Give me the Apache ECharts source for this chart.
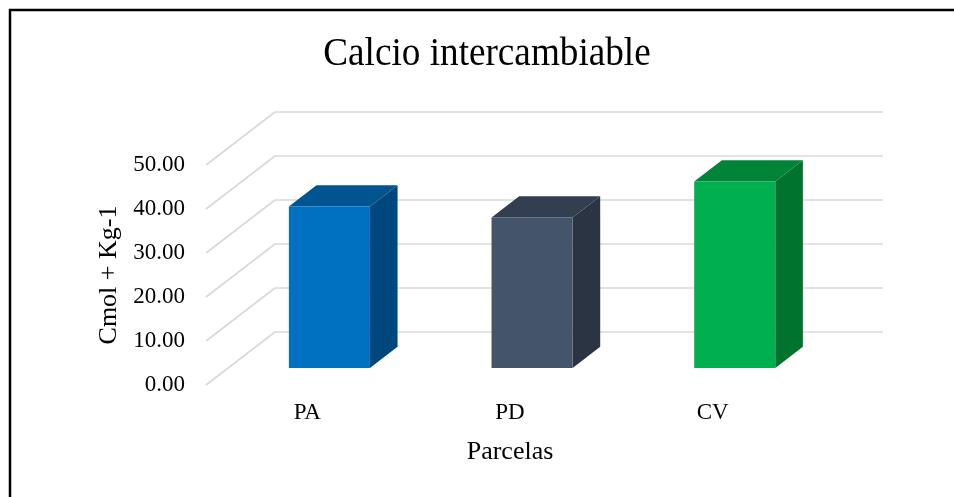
<!DOCTYPE html>
<html>
<head>
<meta charset="utf-8">
<script src="https://cdn.jsdelivr.net/npm/echarts@6/dist/echarts.min.js"></script>
<style>
  html, body { margin: 0; padding: 0; background: #ffffff; }
  #chart { width: 954px; height: 497px; }
</style>
</head>
<body>
<div id="chart"></div>
<script>
// Calcio intercambiable por parcela (Cmol + Kg-1)
const categories = ['PA', 'PD', 'CV'];
const calcio = [36.7, 34.2, 42.4];
const yTicks = [0, 10, 20, 30, 40, 50];

// Face colours of each 3D column: front, top, right side
const frontColors = ['#0070C0', '#44546A', '#00B050'];
const topColors = ['#00548F', '#333F50', '#008438'];
const sideColors = ['#00477D', '#2A3442', '#00732F'];

const FONT = "'Liberation Serif', 'Times New Roman', serif";

// Perspective offset from the front edge of the plot to the back wall
const WALL_DEPTH = [69, -53];
// Column placement inside the depth and the category band
const BAR_FRONT = 0.32;
const BAR_DEPTH = 0.40;
const BAR_WIDTH = 0.40;

const chart = echarts.init(document.getElementById('chart'), null, { renderer: 'canvas' });

// Draw the left side wall: one slanted line per y tick
function renderWall(params, api) {
  const v = api.value(0);
  const p = api.coord([0, v]);
  const band = api.size([1, 0])[0];
  const x0 = p[0] - band / 2;
  return {
    type: 'line',
    shape: { x1: x0, y1: p[1], x2: x0 + WALL_DEPTH[0], y2: p[1] + WALL_DEPTH[1] },
    style: { stroke: '#D9D9D9', lineWidth: 1.6 },
    silent: true
  };
}

// Draw a 3D column: front face, top face and right side face
function renderBar(params, api) {
  const i = api.value(0);
  const v = api.value(1);
  const base = api.coord([i, 0]);
  const top = api.coord([i, v]);
  const band = api.size([1, 0])[0];
  const w = band * BAR_WIDTH;
  const ox = WALL_DEPTH[0] * BAR_FRONT, oy = WALL_DEPTH[1] * BAR_FRONT;
  const dx = WALL_DEPTH[0] * BAR_DEPTH, dy = WALL_DEPTH[1] * BAR_DEPTH;
  const xl = base[0] - w / 2 + ox;
  const xr = base[0] + w / 2 + ox;
  const yb = base[1] + oy;
  const yt = top[1] + oy;
  const idx = params.dataIndex;
  return {
    type: 'group',
    children: [
      {
        type: 'polygon',
        shape: { points: [[xr, yt], [xr + dx, yt + dy], [xr + dx, yb + dy], [xr, yb]] },
        style: { fill: sideColors[idx] }
      },
      {
        type: 'polygon',
        shape: { points: [[xl, yt], [xl + dx, yt + dy], [xr + dx, yt + dy], [xr, yt]] },
        style: { fill: topColors[idx] }
      },
      {
        type: 'rect',
        shape: { x: xl, y: yt, width: xr - xl, height: yb - yt },
        style: { fill: frontColors[idx] }
      }
    ]
  };
}

const option = {
  backgroundColor: '#ffffff',
  animation: false,
  graphic: [
    {
      type: 'rect',
      silent: true,
      shape: { x: 10, y: 10, width: 1000, height: 600 },
      style: { fill: null, stroke: '#000000', lineWidth: 2.5 }
    },
    {
      type: 'text',
      silent: true,
      x: 487,
      y: 54,
      scaleX: 0.93,
      style: {
        text: 'Calcio intercambiable',
        font: '40px ' + FONT,
        fill: '#000000',
        textAlign: 'center',
        textVerticalAlign: 'middle'
      }
    }
  ],
  grid: [
    // front edge of the plot (labels, columns)
    { left: 206, right: 140, top: 165, bottom: 112 },
    // back wall (horizontal gridlines)
    { left: 275, right: 71, top: 112, bottom: 165 }
  ],
  xAxis: [
    {
      gridIndex: 0,
      type: 'category',
      data: categories,
      axisLine: { show: false },
      axisTick: { show: false },
      axisLabel: { color: '#000000', fontFamily: FONT, fontSize: 23, margin: 16 },
      name: 'Parcelas',
      nameLocation: 'middle',
      nameGap: 54,
      nameTextStyle: { color: '#000000', fontFamily: FONT, fontSize: 26 }
    },
    {
      gridIndex: 1,
      type: 'category',
      data: categories,
      show: false
    }
  ],
  yAxis: [
    {
      gridIndex: 0,
      type: 'value',
      min: 0,
      max: 50,
      interval: 10,
      axisLine: { show: false },
      axisTick: { show: false },
      splitLine: { show: false },
      axisLabel: {
        color: '#000000',
        fontFamily: FONT,
        fontSize: 23,
        margin: 21,
        formatter: v => v.toFixed(2)
      },
      name: 'Cmol + Kg-1',
      nameLocation: 'middle',
      nameGap: 80,
      nameTextStyle: { color: '#000000', fontFamily: FONT, fontSize: 26 }
    },
    {
      gridIndex: 1,
      type: 'value',
      min: 0,
      max: 50,
      interval: 10,
      axisLine: { show: false },
      axisTick: { show: false },
      axisLabel: { show: false },
      splitLine: { show: true, lineStyle: { color: '#D9D9D9', width: 1.6 } }
    }
  ],
  series: [
    {
      type: 'custom',
      xAxisIndex: 0,
      yAxisIndex: 0,
      renderItem: renderWall,
      data: yTicks.map(v => [v]),
      encode: { y: 0 },
      silent: true,
      z: 1
    },
    {
      type: 'custom',
      xAxisIndex: 0,
      yAxisIndex: 0,
      renderItem: renderBar,
      data: calcio.map((v, i) => [i, v]),
      encode: { x: 0, y: 1 },
      z: 2
    }
  ]
};

chart.setOption(option);
</script>
</body>
</html>
